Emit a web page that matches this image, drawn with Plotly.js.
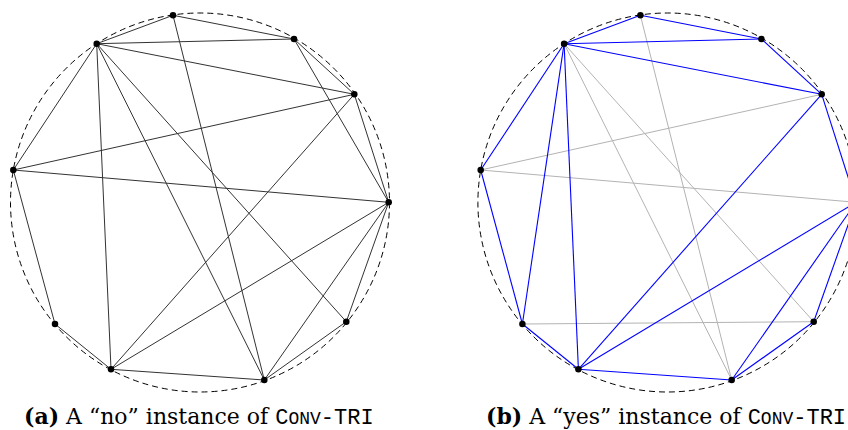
<!DOCTYPE html>
<html>
<head>
<meta charset="utf-8">
<script src="https://cdn.plot.ly/plotly-3.0.1.min.js"></script>
<style>html,body{margin:0;padding:0;background:#fff;}#chart{width:848px;height:430px;}</style>
</head>
<body>
<div id="chart"></div>
<script>
// Node positions relative to the circle centre (screen units, y downwards)
const nodeNames = ["A","B","C","D","E","F","G","H","I","J"];
const nodeX = [-27, -103.3, 94, 154.3, -186.7, 188.7, -145, -89, 64.3, 146.3];
const nodeY = [-187.2, -158.8, -163.5, -108.2, -32.5, -0.2, 121.5, 166.8, 177.5, 119.2];

// (a) "no" instance edges
const edgesNo = [["A","B"],["A","C"],["A","I"],["B","C"],["B","D"],["B","E"],["B","H"],["B","I"],["B","J"],
  ["C","D"],["C","F"],["D","E"],["D","F"],["D","H"],["E","F"],["E","G"],["F","H"],["F","I"],["F","J"],
  ["G","H"],["H","I"],["I","J"]];
// (b) "yes" instance edges: blue (triangulation) and gray (other)
const edgesYesBlue = [["A","B"],["A","C"],["B","C"],["B","D"],["B","E"],["B","G"],["B","H"],["C","D"],
  ["D","F"],["D","H"],["E","G"],["F","H"],["F","I"],["F","J"],["G","H"],["H","I"],["I","J"]];
const edgesYesGray = [["A","I"],["B","I"],["B","J"],["D","E"],["E","F"],["G","J"]];

const circleRadius = 189.5;
const captionA = '<b>(a)</b> A “no” instance of ';
const captionB = '<b>(b)</b> A “yes” instance of ';
const mono = "font-family:'Liberation Mono',monospace";
const captionTail = '<span style="' + mono + ';font-size:22px">C</span><span style="' + mono + ';font-size:18px">ONV</span><span style="' + mono + ';font-size:22px">-TRI</span>';

function edgeTrace(edges, color, width, xa) {
  const xs = [], ys = [];
  edges.forEach(([p, q]) => {
    const i = nodeNames.indexOf(p), j = nodeNames.indexOf(q);
    xs.push(nodeX[i], nodeX[j], null);
    ys.push(nodeY[i], nodeY[j], null);
  });
  return {x: xs, y: ys, xaxis: xa, yaxis: 'y', mode: 'lines', type: 'scatter',
    line: {color: color, width: width}, hoverinfo: 'skip', showlegend: false};
}
function nodeTrace(xa) {
  return {x: nodeX, y: nodeY, xaxis: xa, yaxis: 'y', mode: 'markers', type: 'scatter',
    marker: {color: '#000', size: 6.5}, hoverinfo: 'skip', showlegend: false};
}

const data = [
  edgeTrace(edgesNo, '#333333', 1, 'x'),
  nodeTrace('x'),
  edgeTrace(edgesYesGray, '#b3b3b3', 1, 'x2'),
  edgeTrace(edgesYesBlue, '#0000ff', 1.1, 'x2'),
  nodeTrace('x2')
];

const ax = {visible: false, showgrid: false, zeroline: false, fixedrange: true};
const layout = {
  width: 848, height: 430,
  margin: {l: 0, r: 0, t: 0, b: 0},
  paper_bgcolor: '#fff', plot_bgcolor: '#fff',
  xaxis: Object.assign({}, ax, {range: [-200, 648], domain: [0, 1]}),
  xaxis2: Object.assign({}, ax, {range: [-667.4, 180.6], overlaying: 'x', domain: [0, 1]}),
  yaxis: Object.assign({}, ax, {range: [227.5, -202.5], domain: [0, 1]}),
  shapes: [
    {type: 'circle', xref: 'x', yref: 'y', x0: -circleRadius, x1: circleRadius, y0: -circleRadius, y1: circleRadius,
      line: {color: '#000', width: 1, dash: '6px,4px'}, layer: 'below'},
    {type: 'circle', xref: 'x2', yref: 'y', x0: -circleRadius, x1: circleRadius, y0: -circleRadius, y1: circleRadius,
      line: {color: '#000', width: 1, dash: '6px,4px'}, layer: 'below'}
  ],
  annotations: [
    {text: captionA + captionTail, xref: 'paper', yref: 'paper', x: 22/848, y: 1 - 417/430,
      xanchor: 'left', yanchor: 'middle', showarrow: false,
      font: {family: 'DejaVu Serif, serif', size: 22, color: '#000'}},
    {text: captionB + captionTail, xref: 'paper', yref: 'paper', x: 484/848, y: 1 - 417/430,
      xanchor: 'left', yanchor: 'middle', showarrow: false,
      font: {family: 'DejaVu Serif, serif', size: 22, color: '#000'}}
  ]
};
Plotly.newPlot('chart', data, layout, {staticPlot: true, displayModeBar: false});
</script>
</body>
</html>
